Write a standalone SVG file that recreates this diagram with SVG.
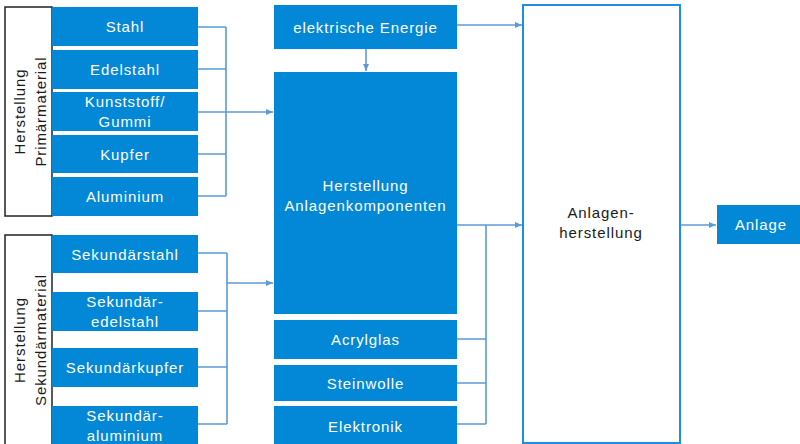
<svg xmlns="http://www.w3.org/2000/svg" width="800" height="444" viewBox="0 0 800 444">
<defs>
<style>
.b{fill:#0288D6}
.t{font-family:"Liberation Sans",Arial,sans-serif;font-size:15px;letter-spacing:0.9px;text-anchor:middle}
.w{fill:#FFFFFF}
.d{fill:#1A1A1A}
.frame{fill:#FFFFFF;stroke:#222222;stroke-width:1.5}
.c{fill:none;stroke:#5B9BD5;stroke-width:1.6}
</style>
<marker id="ah" markerWidth="8" markerHeight="8" refX="7" refY="4" orient="auto" markerUnits="userSpaceOnUse">
<path d="M0,1 L7,4 L0,7 Z" fill="#5B9BD5"/>
</marker>
</defs>
<rect width="800" height="444" fill="#FFFFFF"/>

<g id="primaer-label">
<rect class="frame" x="5" y="7" width="47" height="209"/>
<text class="t d" transform="translate(25,111.5) rotate(-90)">Herstellung</text>
<text class="t d" transform="translate(46,111.5) rotate(-90)">Primärmaterial</text>
</g>
<g id="sekundaer-label">
<rect class="frame" x="5" y="235" width="47" height="212"/>
<text class="t d" transform="translate(25,340) rotate(-90)">Herstellung</text>
<text class="t d" transform="translate(46,340) rotate(-90)">Sekundärmaterial</text>
</g>

<g id="stahl"><rect class="b" x="52" y="7" width="146" height="39"/><text class="t w" x="125" y="32">Stahl</text></g>
<g id="edelstahl"><rect class="b" x="52" y="50" width="146" height="39"/><text class="t w" x="125" y="75">Edelstahl</text></g>
<g id="kunststoff"><rect class="b" x="52" y="92" width="146" height="39"/><text class="t w" x="125" y="107">Kunststoff/</text><text class="t w" x="125" y="127">Gummi</text></g>
<g id="kupfer"><rect class="b" x="52" y="135" width="146" height="38"/><text class="t w" x="125" y="159.5">Kupfer</text></g>
<g id="aluminium"><rect class="b" x="52" y="177" width="146" height="39"/><text class="t w" x="125" y="202">Aluminium</text></g>

<g id="sekundaerstahl"><rect class="b" x="52" y="235" width="146" height="38"/><text class="t w" x="125" y="260">Sekundärstahl</text></g>
<g id="sekundaeredelstahl"><rect class="b" x="52" y="292" width="146" height="39"/><text class="t w" x="125" y="307">Sekundär-</text><text class="t w" x="125" y="327">edelstahl</text></g>
<g id="sekundaerkupfer"><rect class="b" x="52" y="348" width="146" height="39"/><text class="t w" x="125" y="373">Sekundärkupfer</text></g>
<g id="sekundaeraluminium"><rect class="b" x="52" y="406" width="146" height="40"/><text class="t w" x="125" y="421">Sekundär-</text><text class="t w" x="125" y="441">aluminium</text></g>

<g id="energie"><rect class="b" x="274" y="5" width="183" height="44"/><text class="t w" x="365.5" y="32.5">elektrische Energie</text></g>
<g id="anlagenkomponenten"><rect class="b" x="274" y="72" width="183" height="242"/><text class="t w" x="365.5" y="191">Herstellung</text><text class="t w" x="365.5" y="211">Anlagenkomponenten</text></g>
<g id="acrylglas"><rect class="b" x="274" y="320" width="183" height="39"/><text class="t w" x="365.5" y="345">Acrylglas</text></g>
<g id="steinwolle"><rect class="b" x="274" y="365" width="183" height="36"/><text class="t w" x="365.5" y="388.5">Steinwolle</text></g>
<g id="elektronik"><rect class="b" x="274" y="406" width="183" height="40"/><text class="t w" x="365.5" y="431.5">Elektronik</text></g>

<g id="anlagenherstellung"><rect x="523" y="5" width="157" height="438" fill="#FFFFFF" stroke="#1B8FE0" stroke-width="2"/><text class="t d" x="601" y="218">Anlagen-</text><text class="t d" x="601" y="238">herstellung</text></g>
<g id="anlage"><rect class="b" x="717" y="205" width="84" height="39"/><text class="t w" x="761" y="230">Anlage</text></g>

<g id="connectors">
<path class="c" d="M198,27 H226 M198,69 H226 M198,154 H226 M198,196 H226 M226,27 V196"/>
<path class="c" d="M198,112 H273" marker-end="url(#ah)"/>
<path class="c" d="M198,253 H227 M198,311 H227 M198,367 H227 M198,424 H227 M227,253 V424"/>
<path class="c" d="M227,283 H273" marker-end="url(#ah)"/>
<path class="c" d="M366,49 V71" marker-end="url(#ah)"/>
<path class="c" d="M457,25 H522" marker-end="url(#ah)"/>
<path class="c" d="M457,339 H486 M457,383 H486 M457,424 H486 M486,225 V424"/>
<path class="c" d="M457,225 H522" marker-end="url(#ah)"/>
<path class="c" d="M681,225 H716" marker-end="url(#ah)"/>
</g>
</svg>
